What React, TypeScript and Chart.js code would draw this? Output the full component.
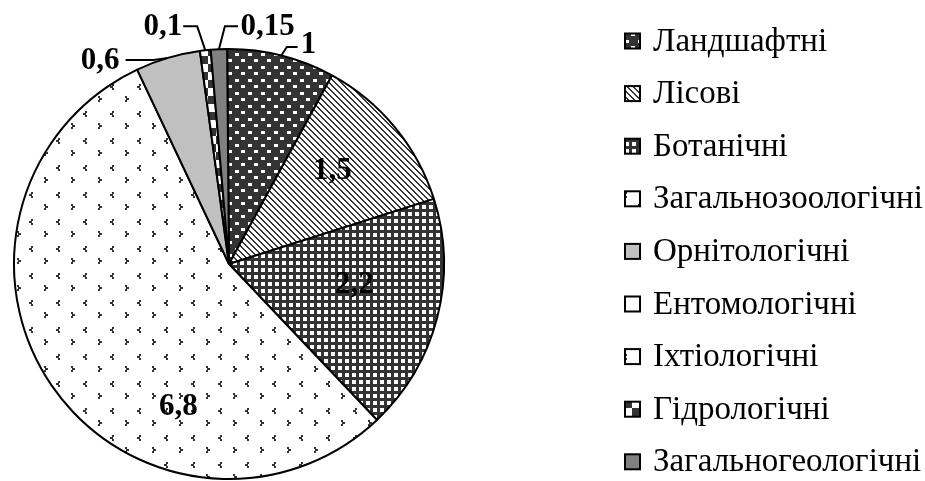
import React, { useEffect, useRef } from "react";
import { Chart, registerables } from "chart.js";

Chart.register(...registerables);

const categories = [
  "Ландшафтні",
  "Лісові",
  "Ботанічні",
  "Загальнозоологічні",
  "Орнітологічні",
  "Ентомологічні",
  "Іхтіологічні",
  "Гідрологічні",
  "Загальногеологічні",
];
const values = [1, 1.5, 2.2, 6.8, 0.6, 0, 0, 0.1, 0.15];
const valueLabels = ["1", "1,5", "2,2", "6,8", "0,6", "", "", "0,1", "0,15"];
const fillKinds = ["dots", "diag", "grid", "confetti", "light", "white", "sparse", "checker", "mid"];

const DARK = "#333333";

function makeFill(kind: string): CanvasPattern | string {
  if (kind === "light") return "#c0c0c0";
  if (kind === "mid") return "#808080";
  if (kind === "white") return "#ffffff";
  const c = document.createElement("canvas");
  let ctx: CanvasRenderingContext2D;
  if (kind === "dots") {
    c.width = 13; c.height = 13;
    ctx = c.getContext("2d")!;
    ctx.fillStyle = DARK; ctx.fillRect(0, 0, 13, 13);
    ctx.fillStyle = "#fff";
    ctx.fillRect(1, 1, 4, 3);
    ctx.fillRect(7, 7, 4, 3);
  } else if (kind === "diag") {
    c.width = 6; c.height = 6;
    ctx = c.getContext("2d")!;
    ctx.fillStyle = "#fff"; ctx.fillRect(0, 0, 6, 6);
    ctx.fillStyle = DARK;
    for (let y = 0; y < 6; y++) for (let x = 0; x < 6; x++) {
      if (((x - y + 12) % 6) < 2) ctx.fillRect(x, y, 1, 1);
    }
  } else if (kind === "grid") {
    c.width = 7; c.height = 7;
    ctx = c.getContext("2d")!;
    ctx.fillStyle = DARK; ctx.fillRect(0, 0, 7, 7);
    ctx.fillStyle = "#fff";
    ctx.fillRect(2, 2, 4, 4);
  } else if (kind === "confetti" || kind === "sparse") {
    c.width = 27; c.height = 27;
    ctx = c.getContext("2d")!;
    ctx.fillStyle = "#fff"; ctx.fillRect(0, 0, 27, 27);
    ctx.fillStyle = DARK;
    ctx.fillRect(4, 3, 2, 2);
    ctx.fillRect(2, 5, 3, 2);
    ctx.fillRect(4, 7, 2, 2);
    ctx.fillRect(17, 15, 2, 2);
    ctx.fillRect(18, 17, 3, 2);
    ctx.fillRect(17, 19, 2, 2);
  } else if (kind === "checker") {
    c.width = 16; c.height = 16;
    ctx = c.getContext("2d")!;
    ctx.fillStyle = "#fff"; ctx.fillRect(0, 0, 16, 16);
    ctx.fillStyle = DARK;
    ctx.fillRect(0, 0, 8, 8);
    ctx.fillRect(8, 8, 8, 8);
  } else {
    return "#fff";
  }
  const p = document.createElement("canvas").getContext("2d")!.createPattern(c, "repeat");
  return p || "#fff";
}

type Place = { t: [number, number]; lead?: [number, number][] };
const placements: Place[] = [
  { t: [0.37, -1.019], lead: [[0.269, -1.009], [0.319, -1.009]] },
  { t: [0.481, -0.431] },
  { t: [0.583, 0.097] },
  { t: [-0.236, 0.667] },
  { t: [-0.6, -0.944], lead: [[-0.352, -0.949], [-0.481, -0.949]] },
  { t: [0, 0] },
  { t: [0, 0] },
  { t: [-0.308, -1.102], lead: [[-0.148, -1.106], [-0.213, -1.106]] },
  { t: [0.18, -1.102], lead: [[-0.019, -1.106], [0.042, -1.106]] },
];

const labelPlugin = {
  id: "valueLabels",
  afterDatasetsDraw(chart: any) {
    const meta = chart.getDatasetMeta(0);
    const ctx: CanvasRenderingContext2D = chart.ctx;
    ctx.save();
    ctx.font = "bold 31px 'Liberation Serif'";
    ctx.textAlign = "center";
    ctx.textBaseline = "middle";
    meta.data.forEach((arc: any, i: number) => {
      const txt = valueLabels[i];
      if (!txt) return;
      const pl = placements[i];
      const cx = arc.x, cy = arc.y, R = arc.outerRadius;
      if (pl.lead) {
        const mid = (arc.startAngle + arc.endAngle) / 2;
        ctx.beginPath();
        ctx.strokeStyle = "#000";
        ctx.lineWidth = 2;
        ctx.moveTo(cx + R * Math.cos(mid), cy + R * Math.sin(mid));
        pl.lead.forEach(([fx, fy]) => ctx.lineTo(cx + fx * R, cy + fy * R));
        ctx.stroke();
      }
      ctx.fillStyle = "#000";
      ctx.fillText(txt, cx + pl.t[0] * R, cy + pl.t[1] * R);
    });
    ctx.restore();
  },
};

const legendPlugin = {
  id: "customLegend",
  afterDraw(chart: any) {
    const ctx: CanvasRenderingContext2D = chart.ctx;
    const bg = chart.data.datasets[0].backgroundColor;
    ctx.save();
    ctx.font = "33px 'Liberation Serif'";
    ctx.textAlign = "left";
    ctx.textBaseline = "middle";
    chart.data.labels.forEach((lab: string, i: number) => {
      const y = 41 + 52.6 * i;
      ctx.fillStyle = bg[i];
      ctx.fillRect(625, y - 7.5, 15, 15);
      ctx.strokeStyle = "#000";
      ctx.lineWidth = 2;
      ctx.strokeRect(625, y - 7.5, 15, 15);
      ctx.fillStyle = "#000";
      ctx.fillText(lab, 653, y + 1);
    });
    ctx.restore();
  },
};

export default function App() {
  const ref = useRef<HTMLCanvasElement | null>(null);
  useEffect(() => {
    document.body.style.margin = "0";
    const canvas = ref.current!;
    const chart = new Chart(canvas, {
      type: "pie",
      data: {
        labels: categories,
        datasets: [
          {
            data: values,
            backgroundColor: fillKinds.map(makeFill) as any,
            borderColor: "#000",
            borderWidth: 2,
          },
        ],
      },
      options: {
        responsive: false,
        maintainAspectRatio: false,
        animation: false,
        rotation: -0.5,
        layout: { padding: { left: 13, right: 480, top: 48, bottom: 1 } },
        plugins: {
          legend: { display: false },
          tooltip: { enabled: false },
        },
      },
      plugins: [labelPlugin, legendPlugin],
    });
    return () => chart.destroy();
  }, []);
  return (
    <div style={{ width: 925, height: 481, background: "#fff" }}>
      <canvas ref={ref} width={925} height={481} style={{ display: "block" }} />
    </div>
  );
}
